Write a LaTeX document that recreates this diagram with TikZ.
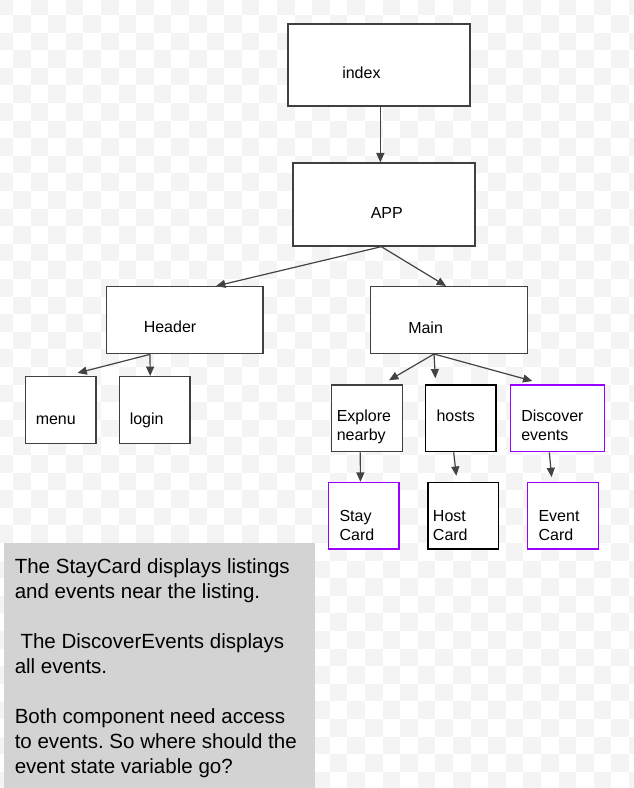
\documentclass[tikz,border=0pt]{standalone}
\usepackage{fontspec}
\setmainfont{Liberation Sans}
\usetikzlibrary{arrows.meta, calc}
\definecolor{purplebox}{RGB}{153,0,255}
\definecolor{noteGray}{RGB}{211,211,211}
\definecolor{checkGray}{RGB}{244,244,244}
\definecolor{lineGray}{RGB}{67,67,67}
\frenchspacing

\begin{document}
\begin{tikzpicture}[
        x=0.75pt, y=-0.75pt,
        font=\fontsize{12pt}{14.25pt}\selectfont,
        box/.style={draw=black!75, line width=1pt, fill=white, inner sep=0pt},
        smallbox/.style={box, minimum width=53pt, minimum height=50pt},
        pickbox/.style={smallbox, draw=purplebox},
        lbl/.style={inner sep=0pt, anchor=base west},
        lbltwo/.style={inner sep=0pt, anchor=north west, align=left},
        arrow/.style={draw=lineGray, line width=0.9pt, -{Triangle[length=7pt, width=6pt]}}
    ]
        \useasboundingbox (0,0) rectangle (634,788);

        % canvas background
        \begin{scope}
            \clip (0,0) rectangle (634,788);
            \foreach \i in {0,...,36} {
                \foreach \j in {0,...,45} {
                    \pgfmathtruncatemacro\k{\i+\j}
                    \ifodd\k\relax\else
                        \fill[checkGray] (-4.6+17.6*\i, -2.6+17.6*\j) rectangle ++(17.6,17.6);
                    \fi
                }
            }
        \end{scope}

        \node[box, minimum width=136.5pt, minimum height=61.5pt] (index) at (379,65) {};
        \node[lbl] (index-t) at (342,78.3) {index};
        \node[box, minimum width=136.5pt, minimum height=62.25pt] (app) at (384,204.5) {};
        \node[lbl] (app-t) at (370.5,218.3) {APP};
        \node[box, minimum width=117.25pt, minimum height=50.25pt] (header) at (184.85,320.2) {};
        \node[lbl] (header-t) at (143.5,332.7) {Header};
        \node[box, minimum width=117.75pt, minimum height=50pt] (main) at (449.2,320) {};
        \node[lbl] (main-t) at (408,333.3) {Main};

        \node[smallbox] (menu) at (60.5,410) {};
        \node[lbl] (menu-t) at (35.5,424.3) {menu};
        \node[smallbox] (login) at (154.5,410) {};
        \node[lbl] (login-t) at (129.5,424.3) {login};

        \node[smallbox] (explore) at (367,418.3) {};
        \node[lbltwo] (explore-t) at (336.5,409.5) {Explore\\nearby};
        \node[smallbox, draw=black] (hosts) at (460.7,418.3) {};
        \node[lbl] (hosts-t) at (436.3,421.7) {hosts};
        \node[pickbox, minimum width=70.5pt] (discover) at (557.3,418.3) {};
        \node[lbltwo] (discover-t) at (521,409.5) {Discover\\events};

        \node[pickbox] (stay) at (363.7,515.8) {};
        \node[lbltwo] (stay-t) at (339.3,510.5) {Stay\\Card};
        \node[smallbox, draw=black] (hostcard) at (463.3,515.8) {};
        \node[lbltwo] (hostcard-t) at (432.7,510.5) {Host\\Card};
        \node[pickbox] (eventcard) at (563,515.8) {};
        \node[lbltwo] (eventcard-t) at (538.3,510.5) {Event\\Card};

        \draw[arrow] ($(index.south west)+(93,0)$) -- ($(app.north west)+(88,0)$);
        \draw[arrow] ($(app.south west)+(89,0)$) -- ($(header.north west)+(110,0)$);
        \draw[arrow] ($(app.south west)+(89,0)$) -- ($(main.north west)+(76,0)$);
        \draw[arrow] ($(header.south west)+(44,0)$) -- ($(menu.north east)+(-19,-3)$);
        \draw[arrow] ($(header.south west)+(44,0)$) -- ($(login.north west)+(31.7,0)$);
        \draw[arrow] ($(main.south west)+(64,0)$) -- ($(explore.north west)+(58,-4)$);
        \draw[arrow] ($(main.south west)+(64,0)$) -- ($(hosts.north west)+(10.7,-6)$);
        \draw[arrow] ($(main.south west)+(64,0)$) -- ($(discover.north west)+(22.7,-3.3)$);
        \draw[arrow] ($(explore.south west)+(29.3,0)$) -- ($(stay.north west)+(32.7,0)$);
        \draw[arrow] ($(hosts.south west)+(29,0)$) -- ($(hostcard.north west)+(29,-6)$);
        \draw[arrow] ($(discover.south west)+(39.7,0)$) -- ($(eventcard.north west)+(24.6,-4.7)$);

        \node[fill=noteGray, minimum width=233.25pt, minimum height=184pt, inner sep=0pt] (note) at (159.5,665.35) {};
        \node[inner sep=0pt, anchor=north west, align=left, font=\fontsize{15.4pt}{18.75pt}\selectfont] (note-t) at (14.5,558.3)
            {The StayCard displays listings\\and events near the listing.\\[18.75pt]
             \hspace{4.3pt}The DiscoverEvents displays\\all events.\\[18.75pt]
             Both component need access\\to events. So where should the\\event state variable go?};
    \end{tikzpicture}
\end{document}
